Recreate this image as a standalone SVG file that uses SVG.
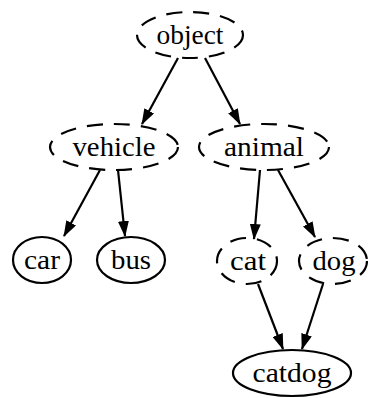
<svg xmlns="http://www.w3.org/2000/svg" width="368" height="398" viewBox="0 0 368 398">
  <style>
    .node ellipse { fill: none; stroke: #000; stroke-width: 2.2; }
    .dashed ellipse { stroke-dasharray: 16 11; }
    .node text { font-family: "Liberation Serif", "DejaVu Serif", serif; font-size: 27px; text-anchor: middle; fill: #000; }
    .edge { stroke: #000; stroke-width: 2.2; fill: none; marker-end: url(#arrow); }
  </style>
  <defs>
    <marker id="arrow" viewBox="0 0 16 11" refX="15" refY="5.5" markerWidth="7.3" markerHeight="5" markerUnits="strokeWidth" orient="auto">
      <path d="M0,0 L16,5.5 L0,11 z" fill="#000"/>
    </marker>
  </defs>
  <rect width="368" height="398" fill="#fff"/>
  <g id="edges">
    <line class="edge" x1="178" y1="58" x2="142" y2="124"/>
    <line class="edge" x1="205" y1="58" x2="240" y2="124"/>
    <line class="edge" x1="100" y1="170" x2="64" y2="236"/>
    <line class="edge" x1="118" y1="170" x2="125" y2="236"/>
    <line class="edge" x1="260" y1="170" x2="254" y2="239"/>
    <line class="edge" x1="278" y1="170" x2="315" y2="237"/>
    <line class="edge" x1="258" y1="284" x2="283" y2="349"/>
    <line class="edge" x1="323" y1="284" x2="302" y2="349"/>
  </g>
  <g id="object" class="node dashed">
    <ellipse cx="190" cy="35" rx="53" ry="23"/>
    <text x="190" y="44" textLength="67" lengthAdjust="spacingAndGlyphs">object</text>
  </g>
  <g id="vehicle" class="node dashed">
    <ellipse cx="114" cy="147" rx="64" ry="23"/>
    <text x="114" y="156" textLength="83" lengthAdjust="spacingAndGlyphs">vehicle</text>
  </g>
  <g id="animal" class="node dashed">
    <ellipse cx="264" cy="147" rx="65" ry="23"/>
    <text x="264" y="156" textLength="80" lengthAdjust="spacingAndGlyphs">animal</text>
  </g>
  <g id="car" class="node">
    <ellipse cx="42" cy="260" rx="29" ry="23"/>
    <text x="42" y="269" textLength="36" lengthAdjust="spacingAndGlyphs">car</text>
  </g>
  <g id="bus" class="node">
    <ellipse cx="131" cy="260" rx="34" ry="23"/>
    <text x="131" y="269" textLength="40" lengthAdjust="spacingAndGlyphs">bus</text>
  </g>
  <g id="cat" class="node dashed">
    <ellipse cx="247" cy="261" rx="30" ry="23"/>
    <text x="248" y="270" textLength="36" lengthAdjust="spacingAndGlyphs">cat</text>
  </g>
  <g id="dog" class="node dashed">
    <ellipse cx="333" cy="261" rx="34" ry="23"/>
    <text x="334" y="270" textLength="43" lengthAdjust="spacingAndGlyphs">dog</text>
  </g>
  <g id="catdog" class="node">
    <ellipse cx="292" cy="373" rx="59" ry="23"/>
    <text x="292" y="382" textLength="79" lengthAdjust="spacingAndGlyphs">catdog</text>
  </g>
</svg>
